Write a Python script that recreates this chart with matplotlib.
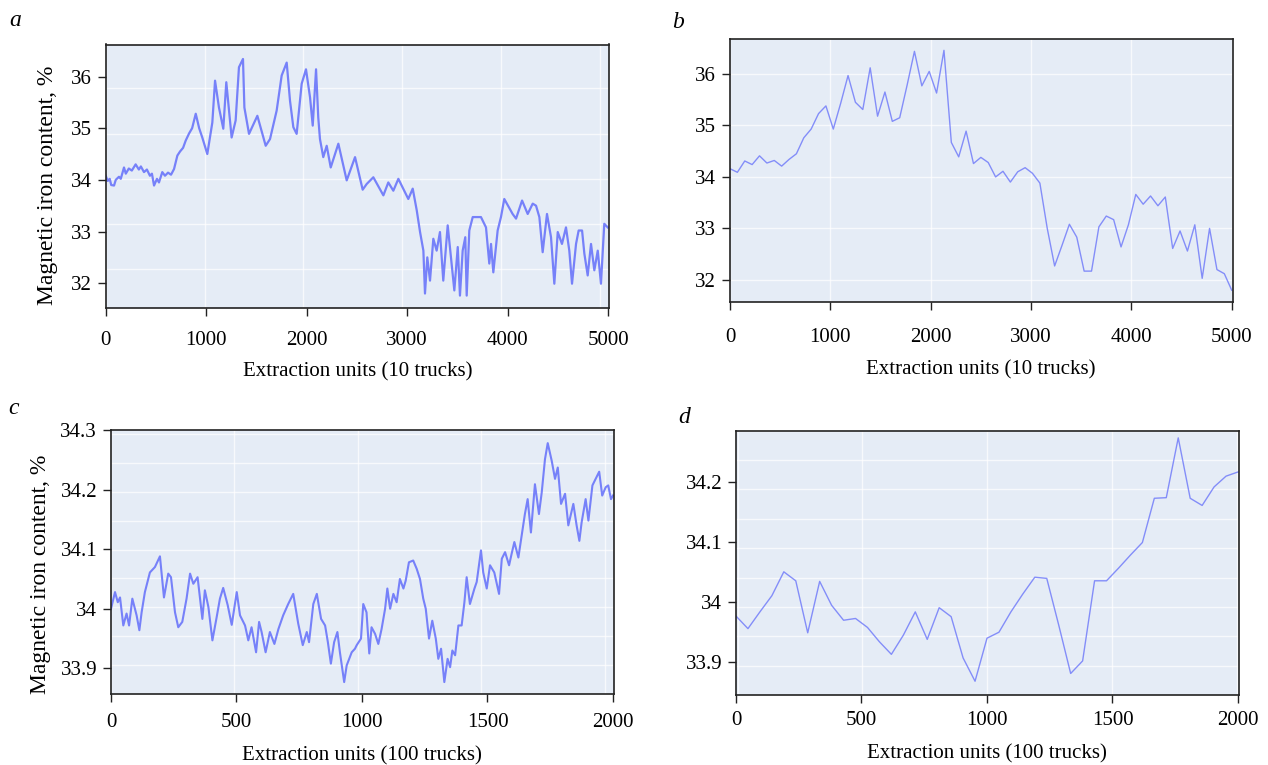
import numpy as np
import matplotlib
matplotlib.use("Agg")
import matplotlib.pyplot as plt

plt.rcParams['font.family'] = ['Liberation Serif', 'DejaVu Serif']

# ---------------- data ----------------
a_x = [0, 20, 40, 55, 83, 100, 132, 150, 182, 200, 230, 260, 298, 330, 350, 381, 410, 440, 460, 481,
       510, 530, 563, 590, 620, 650, 680, 713, 740, 770, 796, 830, 860, 896, 930, 961, 1011, 1040,
       1061, 1088, 1127, 1170,
       1200, 1253, 1293, 1326, 1366, 1380, 1426, 1509, 1592, 1635, 1701, 1751, 1801, 1834, 1867,
       1900, 1950, 1993, 2033, 2060, 2093, 2115, 2132, 2165, 2199, 2239, 2315, 2398, 2481, 2557,
       2597, 2663, 2763, 2812, 2862, 2912, 3011, 3055, 3095, 3128, 3161, 3177, 3200, 3227, 3260,
       3293, 3326, 3359, 3403, 3436, 3469, 3503, 3525, 3552, 3578, 3592, 3618, 3652, 3734, 3784,
       3817, 3834, 3857, 3900, 3933, 3966, 4049, 4083, 4143, 4199, 4249, 4282, 4315, 4348, 4391,
       4431, 4464, 4498, 4540, 4580, 4613, 4640, 4680, 4706, 4740, 4763, 4796, 4829, 4862, 4896,
       4928, 4961, 4995]
a_y = [34.08, 33.98, 34.02, 33.90, 33.89, 34.00, 34.06, 34.02, 34.24, 34.12, 34.22, 34.18, 34.30,
       34.20, 34.26, 34.15, 34.20, 34.08, 34.12, 33.89,
       34.02, 33.95, 34.15, 34.08, 34.14, 34.10, 34.21, 34.47, 34.55, 34.62, 34.76, 34.90, 35.00,
       35.28, 35.00, 34.82, 34.50, 34.85,
       35.11, 35.92, 35.40, 34.99, 35.89, 34.82, 35.15, 36.18, 36.34, 35.40, 34.89, 35.24,
       34.66, 34.79, 35.34, 36.02, 36.27, 35.53, 35.02, 34.89, 35.86, 36.14, 35.60, 35.05, 36.14,
       35.21, 34.79, 34.44, 34.66, 34.24, 34.70, 33.99, 34.44, 33.81, 33.92, 34.05, 33.70, 33.95,
       33.79, 34.02, 33.63, 33.83, 33.41, 32.99, 32.63, 31.80, 32.50, 32.05, 32.86, 32.63, 32.99,
       32.05, 33.12, 32.50, 31.86, 32.70, 31.76, 32.63, 32.89, 31.76, 33.02, 33.28, 33.28, 33.08,
       32.38, 32.76, 32.21, 33.02, 33.28, 33.63, 33.34, 33.25, 33.60, 33.34, 33.54, 33.50, 33.28,
       32.60, 33.34, 32.89, 31.99, 32.99, 32.76, 33.08, 32.63, 31.99, 32.76, 33.02, 33.02, 32.57,
       32.15, 32.76, 32.25, 32.63, 31.99, 33.15, 33.08]

b_y = [34.16, 34.09, 34.31, 34.24, 34.41, 34.27, 34.32, 34.21, 34.34, 34.45,
       34.76, 34.93, 35.23, 35.38, 34.93, 35.43, 35.97, 35.45, 35.31, 36.12,
       35.18, 35.65, 35.08, 35.15, 35.78, 36.44, 35.77, 36.05, 35.63, 36.46,
       34.67, 34.39, 34.89, 34.26, 34.38, 34.28, 34.00, 34.11, 33.90, 34.10,
       34.18, 34.07, 33.88, 33.00, 32.27, 32.67, 33.08, 32.83, 32.17, 32.17,
       33.03, 33.24, 33.17, 32.64, 33.07, 33.66, 33.47, 33.63, 33.44, 33.61,
       32.61, 32.95, 32.56, 33.07, 32.03, 33.00, 32.20, 32.12, 31.80]
b_x = np.linspace(0, 5000, len(b_y))

c_x = [0, 16, 27, 36, 49, 62, 72, 85, 102, 113, 122, 135, 155, 175, 195, 211, 228, 239, 255, 268,
       284, 301, 315, 328, 345, 364, 374, 388, 404, 421, 434, 447, 465, 481, 501, 514, 534, 547,
       560, 578, 590, 600, 616, 633, 651, 667, 686, 706, 726, 746, 764, 780, 789, 806, 820, 837,
       853, 864, 876, 889, 902, 912, 929, 939, 959, 972, 979, 996, 1005, 1018, 1029, 1038, 1052,
       1065, 1078, 1092, 1101, 1112, 1125, 1138, 1151, 1165, 1174, 1187, 1204, 1218, 1231, 1244,
       1254, 1267, 1280, 1294, 1304, 1315, 1328, 1341, 1351, 1360, 1371, 1384, 1397, 1408, 1417,
       1430, 1448, 1457, 1474, 1483, 1497, 1510, 1527, 1546, 1557, 1570, 1586, 1596, 1607, 1623,
       1636, 1649, 1660, 1673, 1689, 1705, 1716, 1729, 1740, 1756, 1769, 1780, 1793, 1809, 1822,
       1842, 1855, 1866, 1875, 1891, 1902, 1918, 1931, 1945, 1957, 1971, 1981, 1992, 2000]
c_y = [34.000, 34.028, 34.011, 34.019, 33.972, 33.992, 33.972, 34.017, 33.989, 33.964, 33.994,
       34.028, 34.061, 34.070, 34.088, 34.019, 34.059, 34.053, 33.994, 33.969, 33.978, 34.017,
       34.059, 34.042, 34.053, 33.983, 34.031, 34.003, 33.947, 33.986, 34.017, 34.035, 34.006,
       33.973, 34.028, 33.989, 33.972, 33.947, 33.969, 33.927, 33.978, 33.961, 33.927, 33.961,
       33.941, 33.966, 33.989, 34.008, 34.025, 33.975, 33.939, 33.961, 33.944, 34.008, 34.025,
       33.983, 33.972, 33.944, 33.908, 33.944, 33.961, 33.927, 33.877, 33.905, 33.927, 33.933,
       33.939, 33.950, 34.008, 33.994, 33.925, 33.969, 33.958, 33.941, 33.966, 34.000, 34.034,
       34.000, 34.025, 34.011, 34.050, 34.034, 34.047, 34.078, 34.081, 34.067, 34.050, 34.017,
       34.000, 33.950, 33.980, 33.950, 33.916, 33.933, 33.877, 33.916, 33.902, 33.930, 33.922,
       33.972, 33.972, 34.011, 34.053, 34.008, 34.034, 34.045, 34.098, 34.061, 34.034, 34.073,
       34.061, 34.025, 34.084, 34.095, 34.073, 34.092, 34.112, 34.086, 34.123, 34.159, 34.184,
       34.128, 34.209, 34.159, 34.195, 34.251, 34.278, 34.248, 34.218, 34.237, 34.176, 34.193,
       34.140, 34.176, 34.140, 34.114, 34.145, 34.184, 34.148, 34.207, 34.218, 34.230, 34.190,
       34.204, 34.207, 34.184, 34.190]

d_y = [33.976, 33.955, 33.983, 34.010, 34.050, 34.035, 33.948, 34.034, 33.994, 33.969,
       33.972, 33.957, 33.933, 33.912, 33.944, 33.983, 33.937, 33.990, 33.975, 33.906,
       33.867, 33.939, 33.949, 33.983, 34.013, 34.041, 34.039, 33.961, 33.880, 33.901,
       34.035, 34.035, 34.056, 34.078, 34.099, 34.173, 34.174, 34.274, 34.173, 34.161,
       34.192, 34.210, 34.217]
d_x = np.linspace(0, 2000, len(d_y))

xticks_long = [0, 1000, 2000, 3000, 4000, 5000]
xticks_short = [0, 500, 1000, 1500, 2000]
yticks_ab = [32, 33, 34, 35, 36]
yticks_c = [33.9, 34.0, 34.1, 34.2, 34.3]
yticks_d = [33.9, 34.0, 34.1, 34.2]
xlabel_10 = "Extraction units (10 trucks)"
xlabel_100 = "Extraction units (100 trucks)"
ylabel = "Magnetic iron content, %"

# ---------------- figure ----------------
W, H = 1268, 765
fig = plt.figure(figsize=(W / 100, H / 100), dpi=100)
BG = '#E5ECF6'
LINE = '#636EFA'
FS = 15


def rect(l, t, r, b):
    return [l / W, 1 - b / H, (r - l) / W, (b - t) / H]


def panel(box, x, y, xlim, ylim, xt, yt, glim, gxt, gyt, lw, alpha, xl, letter, lpos,
          xpad, xlpad, ylab_px=None):
    bg = fig.add_axes(box, zorder=0)
    bg.set_facecolor(BG)
    bg.set_xlim(glim[0], glim[1])
    bg.set_ylim(glim[2], glim[3])
    bg.set_xticks(gxt)
    bg.set_yticks(gyt)
    bg.grid(True, color='white', lw=1.0, alpha=0.7)
    bg.tick_params(length=0, labelbottom=False, labelleft=False)
    for s in bg.spines.values():
        s.set_visible(False)

    ax = fig.add_axes(box, zorder=1)
    ax.patch.set_alpha(0)
    ax.plot(x, y, color=LINE, lw=lw, alpha=alpha)
    ax.set_xlim(*xlim)
    ax.set_ylim(*ylim)
    ax.set_xticks(xt)
    ax.set_yticks(yt)
    ax.set_yticklabels([f"{v:g}" for v in yt])
    ax.tick_params(direction='out', length=6, width=1, color='#222222', labelsize=FS)
    ax.tick_params(axis='x', pad=xpad)
    ax.tick_params(axis='y', pad=4)
    for s in ax.spines.values():
        s.set_color('#222222')
        s.set_linewidth(1.2)
    ax.set_xlabel(xl, fontsize=FS, labelpad=xlpad)
    if ylab_px is not None:
        fig.text(ylab_px[0] / W, 1 - ylab_px[1] / H, ylabel, fontsize=17, rotation=90,
                 ha='center', va='center')
    fig.text(lpos[0] / W, 1 - lpos[1] / H, letter, fontsize=17, style='italic',
             ha='center', va='center')
    return ax


panel(rect(105.7, 44.5, 609, 308), a_x, a_y, (0, 5008), (31.52, 36.62), xticks_long, yticks_ab,
      (20, 5089, 31.14, 36.97), xticks_long, yticks_ab, 1.6, 0.85,
      xlabel_10, 'a', (15, 20), 10.5, 9, (48, 185))

panel(rect(730, 39, 1232.5, 302), b_x, b_y, (0, 5008), (31.57, 36.68), xticks_long, yticks_ab,
      (0, 5008, 31.57, 36.68), xticks_long, yticks_ab, 1.0, 0.75,
      xlabel_10, 'b', (678, 22), 12.6, 9.6)

panel(rect(111, 430, 613.5, 694), c_x, c_y, (0, 2002), (33.857, 34.30), xticks_short, yticks_c,
      (1, 2035, 33.8525, 34.307), xticks_short, np.arange(33.85, 34.31, 0.05), 1.5, 0.85,
      xlabel_100, 'c', (14, 408), 7.6, 10.3, (41, 574))

panel(rect(736, 430.7, 1238.5, 695), d_x, d_y, (0, 2002), (33.844, 34.286), xticks_short, yticks_d,
      (-6.4, 2008, 33.874, 34.288), xticks_short, np.arange(33.85, 34.31, 0.05), 1.0, 0.75,
      xlabel_100, 'd', (684, 418), 5.4, 10.3)

fig.savefig("out.png", dpi=100)
